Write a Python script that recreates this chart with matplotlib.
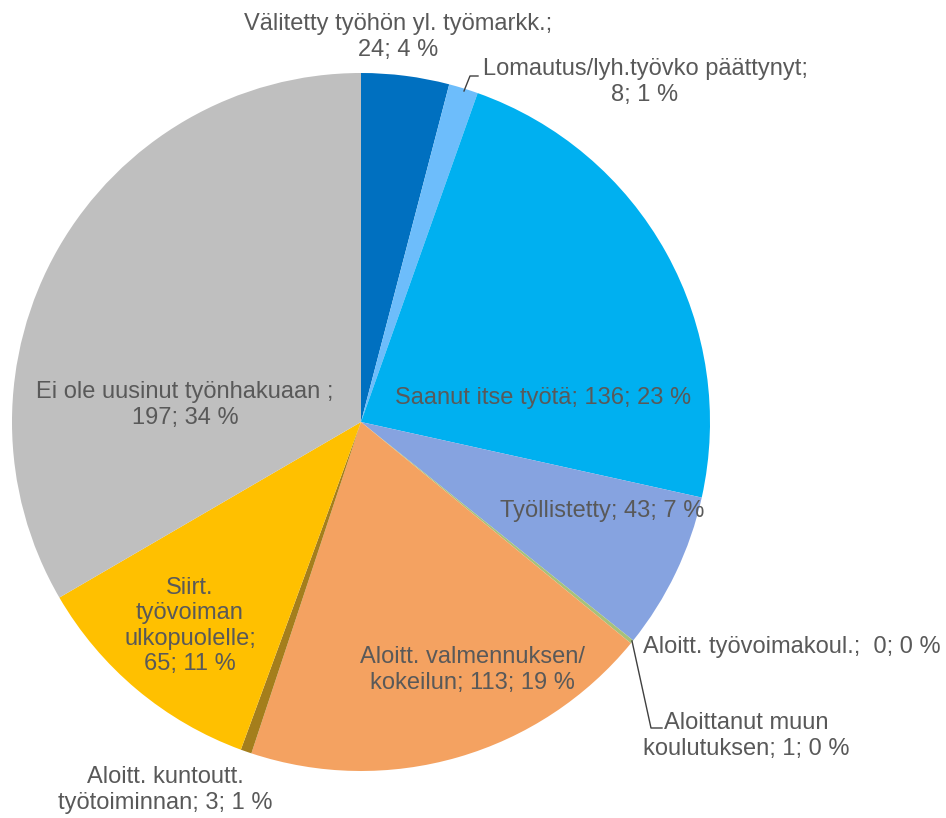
import numpy as np
import matplotlib
matplotlib.use("Agg")
from matplotlib import pyplot as plt

# data (clockwise from 12 o'clock)
names = ["Välitetty työhön yl. työmarkk.;\n", "Lomautus/lyh.työvko päättynyt;\n",
         "Saanut itse työtä; ", "Työllistetty; ", "Aloitt. työvoimakoul.;  ",
         "Aloittanut muun\nkoulutuksen; ", "Aloitt. valmennuksen/\nkokeilun; ",
         "Aloitt. kuntoutt.\ntyötoiminnan; ", "Siirt.\ntyövoiman\nulkopuolelle;\n",
         "Ei ole uusinut työnhakuaan ;\n"]
values = [24, 8, 136, 43, 0, 1, 113, 3, 65, 197]
pcts = [4, 1, 23, 7, 0, 0, 19, 1, 11, 34]
colors = ["#0070C0", "#6DBDFB", "#00B0F0", "#86A3E0", "#4F81BD",
          "#A6C17A", "#F4A261", "#A47E1C", "#FFC000", "#BFBFBF"]

plt.rcParams['font.family'] = ['Liberation Sans', 'DejaVu Sans']
txt = "#595959"
fs = 17

fig = plt.figure(figsize=(9.46, 8.18), dpi=100)
cx, cy, r = 361, 422, 349
ax = fig.add_axes([(cx - r) / 946, (818 - cy - r) / 818, 2 * r / 946, 2 * r / 818])

ax.pie(values, colors=colors, startangle=90, counterclock=False, radius=1,
       wedgeprops=dict(linewidth=0))
ax.set_xlim(-1, 1)
ax.set_ylim(-1, 1)
ax.set_aspect("equal")
ax.axis("off")

labels = [f"{n}{v}; {p} %" for n, v, p in zip(names, values, pcts)]


def px(x, y):
    return (x - cx) / r, (cy - y) / r


# label positions (layout, in pixels of the picture)
pos = [(398, 37, "center"), (645, 82, "center"), (543, 398, "center"),
       (602, 511, "center"), (643, 647, "left"), (746, 736, "center"),
       (472, 670, "center"), (165, 790, "center"), (190, 626, "center"),
       (185, 405, "center")]
for lab, (x, y, ha) in zip(labels, pos):
    dx, dy = px(x, y)
    ax.text(dx, dy, lab, ha=ha, va="center", color=txt, fontsize=fs,
            linespacing=1.2, multialignment="center", clip_on=False)

# leader lines
lc = "#404040"
x0, y0 = zip(*[px(464, 91), px(470, 76), px(478, 76)])
ax.plot(x0, y0, color=lc, lw=1, clip_on=False)
x1, y1 = zip(*[px(632, 641), px(651, 728), px(662, 728)])
ax.plot(x1, y1, color=lc, lw=1, clip_on=False)

fig.savefig("out.png", dpi=100)
